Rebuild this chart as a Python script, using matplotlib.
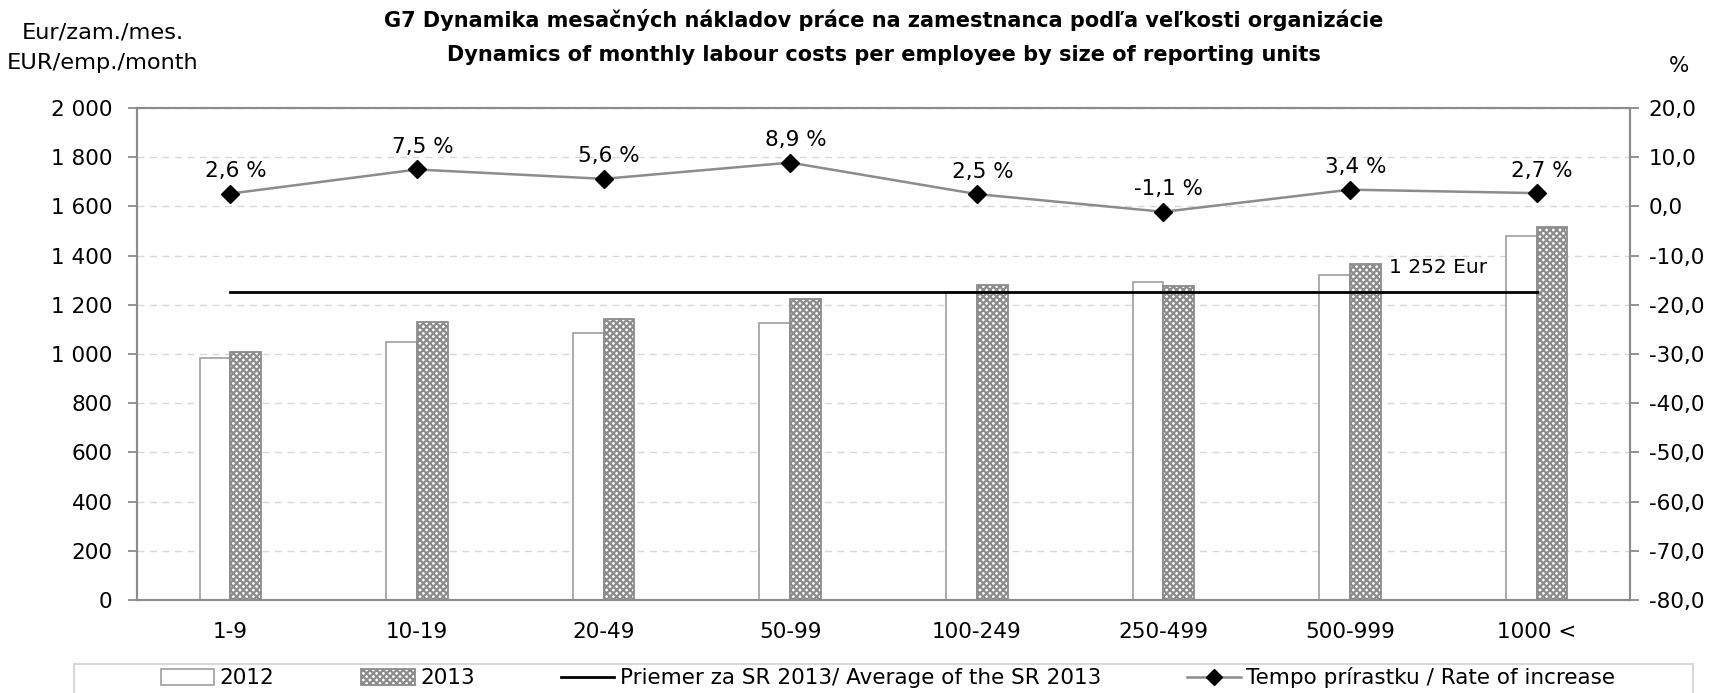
import numpy as np
import matplotlib
matplotlib.use("Agg")
import matplotlib.pyplot as plt
from matplotlib.ticker import FuncFormatter, MultipleLocator
from matplotlib.patches import Rectangle
from matplotlib.lines import Line2D

categories = ["1-9", "10-19", "20-49", "50-99", "100-249", "250-499", "500-999", "1000 <"]
cost_2012 = [984, 1049, 1085, 1126, 1251, 1293, 1321, 1480]
cost_2013 = [1008, 1130, 1142, 1224, 1280, 1276, 1366, 1516]
growth = [2.6, 7.5, 5.6, 8.9, 2.5, -1.1, 3.4, 2.7]
average_sr = 1252

plt.rcParams['font.family'] = ['DejaVu Sans']
plt.rcParams['hatch.linewidth'] = 1.6
FS = 15.5

GRAY = '#8c8c8c'
EDGE = '#a6a6a6'

fig = plt.figure(figsize=(17.17, 6.93), dpi=100)
ax = fig.add_axes([137 / 1717, 93 / 693, (1630 - 137) / 1717, (600 - 108) / 693])
ax2 = ax.twinx()

x = np.arange(len(categories))
w = 0.165

ax.bar(x - w / 2, cost_2012, w, color='white', edgecolor=EDGE, linewidth=1.3, zorder=2)
ax.bar(x + w / 2, cost_2013, w, color='white', edgecolor=GRAY, hatch='xxxxx',
       linewidth=1.3, zorder=2)
ax.plot([x[0], x[-1]], [average_sr, average_sr], color='black', lw=2, zorder=3)
ax.text(6.21, 1350, "1 252 Eur", fontsize=FS - 1, ha='left', va='center', zorder=4)

ax.set_xlim(-0.5, len(categories) - 0.5)
ax.set_ylim(0, 2000)
ax.yaxis.set_major_locator(MultipleLocator(200))
ax.yaxis.set_major_formatter(FuncFormatter(lambda v, p: f"{int(v):,}".replace(",", " ")))
ax.set_xticks(x)
ax.set_xticklabels(categories)
ax.tick_params(axis='x', length=0, pad=16, labelsize=FS)
ax.tick_params(axis='y', length=6.5, width=1.3, color=GRAY, labelsize=FS, pad=11)
ax.grid(axis='y', color='#d9d9d9', linestyle=(0, (5, 4)), lw=1, zorder=0)
ax.set_axisbelow(True)

ax2.plot(x, growth, color=GRAY, lw=1.8, marker='D', markersize=9,
         markerfacecolor='black', markeredgecolor='black', zorder=5)
for xi, g in zip(x, growth):
    ax2.annotate(f"{g:.1f} %".replace(".", ","), (xi, g), xytext=(4, 9),
                 textcoords='offset points', ha='center', va='bottom', fontsize=FS)
ax2.set_ylim(-80, 20)
ax2.yaxis.set_major_locator(MultipleLocator(10))
ax2.yaxis.set_major_formatter(FuncFormatter(lambda v, p: f"{v:.1f}".replace(".", ",")))
ax2.tick_params(axis='y', length=6.5, width=1.3, color=GRAY, labelsize=FS, pad=7)

for a in (ax, ax2):
    for s in a.spines.values():
        s.set_color(GRAY)
        s.set_linewidth(1.5)

title_x = (137 + 1630) / 2 / 1717
fig.text(title_x, 1 - 20 / 693,
         "G7 Dynamika mesačných nákladov práce na zamestnanca podľa veľkosti organizácie",
         ha='center', va='center', fontsize=15, fontweight='bold')
fig.text(title_x, 1 - 55 / 693,
         "Dynamics of monthly labour costs per employee by size of reporting units",
         ha='center', va='center', fontsize=15, fontweight='bold')
fig.text(103 / 1717, 1 - 33 / 693, "Eur/zam./mes.", ha='center', va='center', fontsize=16.2)
fig.text(103 / 1717, 1 - 63 / 693, "EUR/emp./month", ha='center', va='center', fontsize=16.2)
fig.text(1679 / 1717, 1 - 66 / 693, "%", ha='center', va='center', fontsize=FS)

# legend box
fig.patches.append(Rectangle((74 / 1717, -0.05), (1693 - 74) / 1717, (693 - 664) / 693 + 0.05,
                             transform=fig.transFigure, facecolor='white',
                             edgecolor='#d9d9d9', lw=1.5))
handles = [
    Rectangle((0, 0), 1, 1, facecolor='white', edgecolor=EDGE, lw=1.3),
    Rectangle((0, 0), 1, 1, facecolor='white', edgecolor=GRAY, hatch='xxxxx', lw=1.3),
    Line2D([], [], color='black', lw=2),
    Line2D([], [], color=GRAY, lw=1.8, marker='D', markersize=8,
           markerfacecolor='black', markeredgecolor='black'),
]
labels = ["2012", "2013", "Priemer za SR 2013/ Average of the SR 2013",
          "Tempo prírastku / Rate of increase"]
fig.legend(handles, labels, loc='center', bbox_to_anchor=(888 / 1717, 1 - 678 / 693),
           ncol=4, frameon=False, fontsize=FS, handlelength=2.5, handleheight=0.8,
           handletextpad=0.25, columnspacing=4.0)

fig.savefig("out.png", dpi=100)
